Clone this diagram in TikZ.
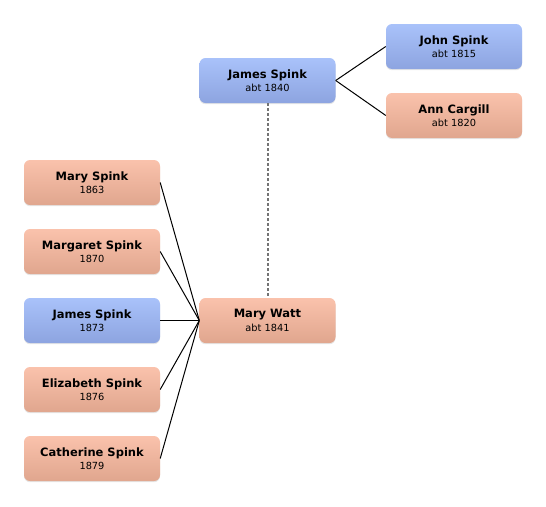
\documentclass[tikz,border=0pt]{standalone}
\usepackage{fontspec}
\setmainfont{DejaVu Sans}
\usepackage{xcolor}
\usetikzlibrary{shadows}

\definecolor{maletop}{HTML}{A9C2FA}
\definecolor{malebot}{HTML}{8DA4E0}
\definecolor{femtop}{HTML}{FAC2AC}
\definecolor{fembot}{HTML}{E0A68E}

\newcommand{\who}[2]{{\bfseries\fontsize{11.5}{13}\selectfont #1}\\[1.5pt]{\fontsize{9.8}{11}\selectfont #2}}

\begin{document}
\begin{tikzpicture}[x=1pt,y=-1pt,
    person/.style={rounded corners=6pt,minimum width=136pt,minimum height=45pt,
      align=center,inner sep=0pt,
      drop shadow={opacity=0.2,shadow xshift=0pt,shadow yshift=-1.2pt}},
    male/.style={person,top color=maletop,bottom color=malebot},
    female/.style={person,top color=femtop,bottom color=fembot},
    link/.style={line width=1pt}]
    \useasboundingbox (0,0) rectangle (546,506);
    % parents generation
    \node[male]   (jamessr) at (267.5,80.5)  {\who{James Spink}{abt 1840}};
    \node[male]   (john)    at (454,46.5)    {\who{John Spink}{abt 1815}};
    \node[female] (ann)     at (454,115.5)   {\who{Ann Cargill}{abt 1820}};
    \node[female] (marywatt) at (267.5,320.5) {\who{Mary Watt}{abt 1841}};
    % children
    \node[female] (mary)      at (92,182.5) {\who{Mary Spink}{1863}};
    \node[female] (margaret)  at (92,251.5) {\who{Margaret Spink}{1870}};
    \node[male]   (jamesjr)   at (92,320.5) {\who{James Spink}{1873}};
    \node[female] (elizabeth) at (92,389.5) {\who{Elizabeth Spink}{1876}};
    \node[female] (catherine) at (92,458.5) {\who{Catherine Spink}{1879}};
    \draw[link](jamessr.east)--(john.west);
    \draw[link](jamessr.east)--(ann.west);
    \draw[line width=2pt,black!55,dash pattern=on 2.5pt off 2.5pt](jamessr.south)--(marywatt.north);
    \foreach \c in {mary,margaret,jamesjr,elizabeth,catherine}
      \draw[link](\c.east)--(marywatt.west);
\end{tikzpicture}
\end{document}
